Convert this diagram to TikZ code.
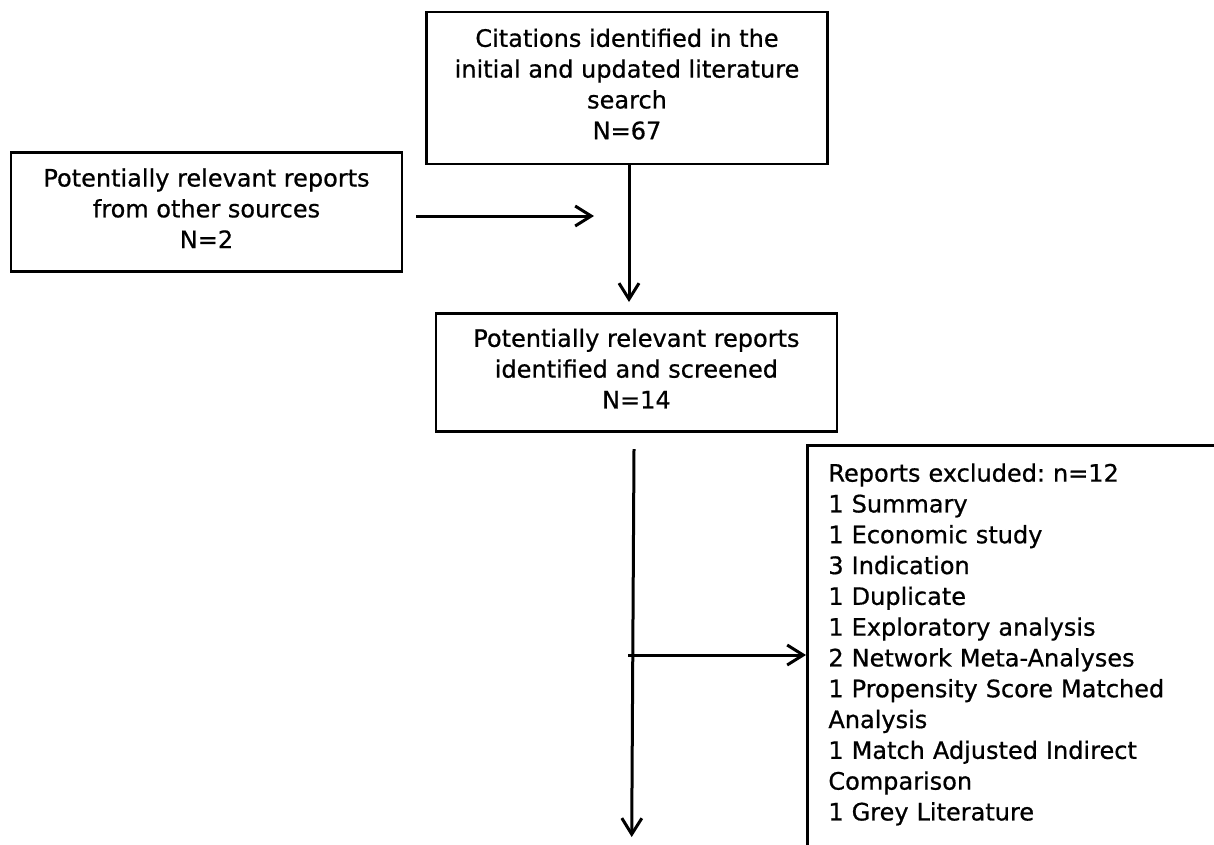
\documentclass[tikz,border=0pt]{standalone}
\usepackage{fontspec}
\setmainfont{DejaVu Sans}[FakeBold=0.7]
\usetikzlibrary{arrows.meta}
\frenchspacing
\begin{document}
\begin{tikzpicture}[x=1pt,y=-1pt,
  box/.style={draw=black,line width=2.8pt,align=center,
    font=\fontsize{24}{30.8}\selectfont,text depth=8pt,inner sep=0pt},
  arr/.style={line width=3pt,-{Straight Barb[length=16pt,width=20pt]}}]
\useasboundingbox (0,0) rectangle (1214,844);
\clip (0,0) rectangle (1214,844);
\node[box,minimum width=401pt,minimum height=152pt] (top) at (627,87.9)
  {Citations identified in the\\initial and updated literature\\search\\N=67};
\node[box,minimum width=391pt,minimum height=119pt] (left) at (206.5,212.2)
  {Potentially relevant reports\\from other sources\\N=2};
\node[box,minimum width=401pt,minimum height=118pt] (mid) at (636.4,372.5)
  {Potentially relevant reports\\identified and screened\\N=14};
\node[box,align=left,anchor=north west,text width=420pt,inner xsep=21pt,
  inner ysep=18pt,text depth=400pt] (excl) at (806,444)
  {Reports excluded: n=12\\1 Summary\\1 Economic study\\3 Indication\\1 Duplicate\\1 Exploratory analysis\\2 Network Meta-Analyses\\1 Propensity Score Matched\\Analysis\\1 Match Adjusted Indirect\\Comparison\\1 Grey Literature};
\coordinate (a1) at (629,302);
\draw[arr] (top.south -| a1) -- (a1);
\coordinate (h1) at (416,216);
\coordinate (h2) at (594,216);
\draw[arr] (h1) -- (h2);
\coordinate (v1) at (634,449);
\coordinate (v2) at (631.7,837);
\draw[arr] (v1) -- (v2);
\coordinate (v3) at (628,655);
\draw[arr] (v3) -- (v3 -| excl.west);
\end{tikzpicture}
\end{document}
